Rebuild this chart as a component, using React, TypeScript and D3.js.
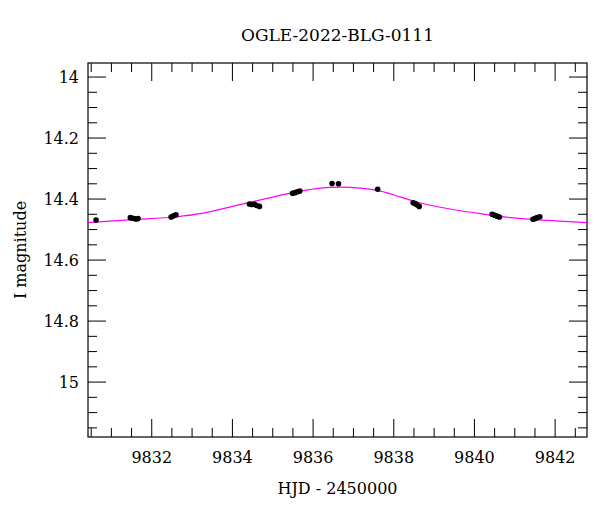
import React from "react";
import * as d3 from "d3";

const TITLE = "OGLE-2022-BLG-0111";
const X_LABEL = "HJD - 2450000";
const Y_LABEL = "I magnitude";

const obsHJD = [
  9830.62,
  9831.47, 9831.53, 9831.6, 9831.66,
  9832.48, 9832.54, 9832.6,
  9834.42, 9834.48, 9834.55, 9834.6, 9834.67,
  9835.49, 9835.55, 9835.61, 9835.67,
  9836.47, 9836.63,
  9837.6,
  9838.48, 9838.53, 9838.58, 9838.63,
  9840.44, 9840.5, 9840.56, 9840.62,
  9841.45, 9841.5, 9841.55, 9841.62,
];
const obsMag = [
  14.469,
  14.461, 14.463, 14.465, 14.464,
  14.459, 14.455, 14.452,
  14.416, 14.418, 14.417, 14.421, 14.424,
  14.381, 14.379, 14.376, 14.374,
  14.349, 14.35,
  14.368,
  14.412, 14.415, 14.419, 14.424,
  14.45, 14.453, 14.456, 14.459,
  14.466, 14.464, 14.461, 14.458,
];

const modelHJD = [
  9830.42, 9831.46, 9832.63, 9833.2, 9834.19, 9835.18, 9835.68, 9836.18,
  9836.67, 9837.17, 9837.67, 9838.16, 9838.66, 9839.33, 9840.15, 9840.97,
  9841.81, 9842.8,
];
const modelMag = [
  14.477, 14.468, 14.458, 14.448, 14.418, 14.388, 14.374, 14.364,
  14.361, 14.364, 14.374, 14.393, 14.413, 14.431, 14.448, 14.462,
  14.47, 14.477,
];

const xMajorTicks = [9832, 9834, 9836, 9838, 9840, 9842];
const yMajorTicks = [14, 14.2, 14.4, 14.6, 14.8, 15];

const W = 600;
const H = 512;
const L = 88;
const R = 587;
const T = 63;
const B = 437;
const FONT = "'DejaVu Serif', serif";

export default function App() {
  const x = d3.scaleLinear().domain([9830.42, 9842.79]).range([L, R]);
  const y = d3.scaleLinear().domain([13.954, 15.18]).range([T, B]);

  const xMinor = d3.range(9830.5, 9842.8, 0.5).filter((v) => Math.abs(v / 2 - Math.round(v / 2)) > 1e-6);
  const yMinor = d3.range(13.95, 15.18, 0.05).filter((v) => {
    const r = Math.round(v * 5) / 5;
    return Math.abs(v - r) > 1e-6 && v >= 13.955;
  });

  const line = d3
    .line<number>()
    .x((_, i) => x(modelHJD[i]))
    .y((d) => y(d))
    .curve(d3.curveCatmullRom);

  const MAJ = 18;
  const MIN = 9;
  const tickStroke = "#000";

  return (
    <svg width={W} height={H} style={{ position: "absolute", left: 0, top: 0, background: "#fff" }}>
      <rect x={0} y={0} width={W} height={H} fill="#fff" />
      <defs>
        <clipPath id="plot">
          <rect x={L} y={T} width={R - L} height={B - T} />
        </clipPath>
      </defs>
      <text x={(L + R) / 2} y={41} textAnchor="middle" fontFamily={FONT} fontSize={17}>
        {TITLE}
      </text>
      {/* ticks */}
      <g stroke={tickStroke} strokeWidth={1}>
        {xMajorTicks.map((v) => (
          <g key={"xM" + v}>
            <line x1={x(v)} x2={x(v)} y1={B} y2={B - MAJ} />
            <line x1={x(v)} x2={x(v)} y1={T} y2={T + MAJ} />
          </g>
        ))}
        {xMinor.map((v) => (
          <g key={"xm" + v}>
            <line x1={x(v)} x2={x(v)} y1={B} y2={B - MIN} />
            <line x1={x(v)} x2={x(v)} y1={T} y2={T + MIN} />
          </g>
        ))}
        {yMajorTicks.map((v) => (
          <g key={"yM" + v}>
            <line x1={L} x2={L + MAJ} y1={y(v)} y2={y(v)} />
            <line x1={R} x2={R - MAJ} y1={y(v)} y2={y(v)} />
          </g>
        ))}
        {yMinor.map((v) => (
          <g key={"ym" + v}>
            <line x1={L} x2={L + MIN} y1={y(v)} y2={y(v)} />
            <line x1={R} x2={R - MIN} y1={y(v)} y2={y(v)} />
          </g>
        ))}
      </g>
      <rect x={L} y={T} width={R - L} height={B - T} fill="none" stroke="#000" strokeWidth={1.2} />
      {/* tick labels */}
      {xMajorTicks.map((v) => (
        <text key={"xl" + v} x={x(v)} y={B + 26} textAnchor="middle" fontFamily={FONT} fontSize={16}>
          {v}
        </text>
      ))}
      {yMajorTicks.map((v) => (
        <text key={"yl" + v} x={L - 9} y={y(v) + 6} textAnchor="end" fontFamily={FONT} fontSize={16}>
          {d3.format("~g")(v)}
        </text>
      ))}
      <text x={(L + R) / 2} y={494} textAnchor="middle" fontFamily={FONT} fontSize={16}>
        {X_LABEL}
      </text>
      <text
        transform={`translate(26, ${(T + B) / 2}) rotate(-90)`}
        textAnchor="middle"
        fontFamily={FONT}
        fontSize={16}
      >
        {Y_LABEL}
      </text>
      <g clipPath="url(#plot)">
        <path d={line(modelMag) || ""} fill="none" stroke="#ff00ff" strokeWidth={1.2} />
        {obsHJD.map((t, i) => (
          <circle key={"p" + i} cx={x(t)} cy={y(obsMag[i])} r={2.8} fill="#000" />
        ))}
      </g>
    </svg>
  );
}
